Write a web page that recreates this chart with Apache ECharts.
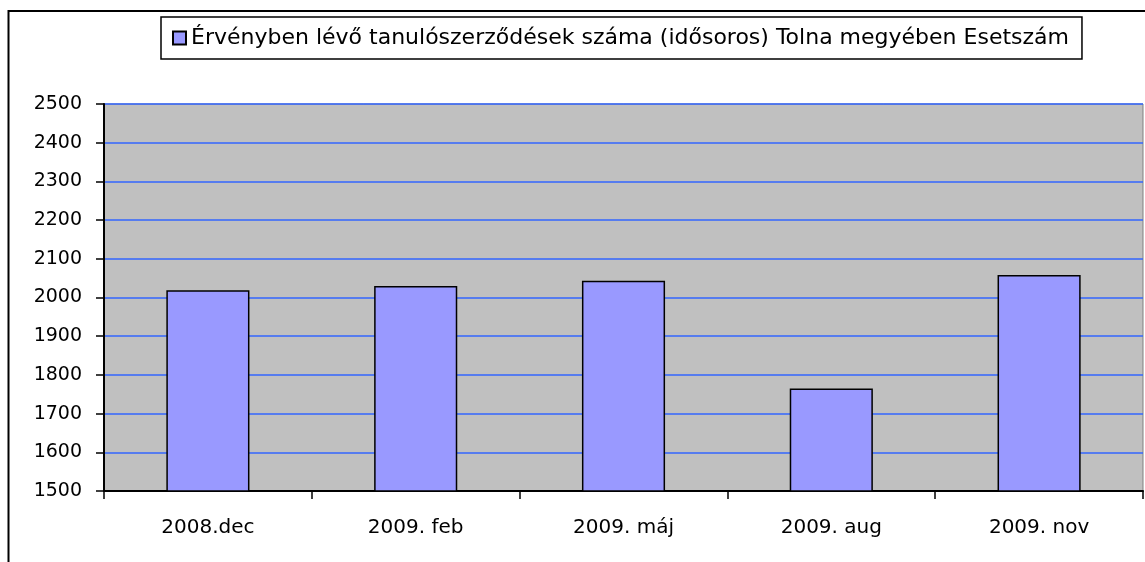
<!DOCTYPE html>
<html lang="hu" style="height: 100%">
<head>
  <meta charset="utf-8">
</head>
<body style="height: 100%; margin: 0; background: #fff">
  <div id="container" style="width: 1145px; height: 562px"></div>

  <script type="text/javascript" src="https://fastly.jsdelivr.net/npm/echarts@6/dist/echarts.min.js"></script>
  <script type="text/javascript">
    // chart data
    var categories = ['2008.dec', '2009. feb', '2009. máj', '2009. aug', '2009. nov'];
    var seriesName = 'Érvényben lévő tanulószerződések száma (idősoros) Tolna megyében Esetszám';
    var values = [2019, 2030, 2043, 1765, 2058];
    var yTicks = [1500, 1600, 1700, 1800, 1900, 2000, 2100, 2200, 2300, 2400, 2500];

    var dom = document.getElementById('container');
    var myChart = echarts.init(dom, null, { renderer: 'canvas' });
    var font = 'DejaVu Sans';

    var option = {
      backgroundColor: '#fff',
      animation: false,
      textStyle: { fontFamily: font },
      graphic: [{
        type: 'rect',
        silent: true,
        shape: { x: 8.5, y: 11, width: 1300, height: 700 },
        style: { fill: null, stroke: '#000', lineWidth: 2 }
      }],
      legend: {
        left: 161,
        top: 17,
        padding: [10, 13, 10, 11],
        borderColor: '#000',
        borderWidth: 1.5,
        backgroundColor: '#fff',
        itemWidth: 13,
        itemHeight: 13,
        textStyle: { fontFamily: font, fontSize: 22, color: '#000' },
        data: [{ name: seriesName, icon: 'rect' }]
      },
      grid: {
        left: 104,
        top: 104,
        right: 2,
        bottom: 71,
        show: true,
        backgroundColor: '#C0C0C0',
        borderColor: '#808080',
        borderWidth: 1
      },
      xAxis: {
        type: 'category',
        data: categories,
        boundaryGap: true,
        axisLine: { lineStyle: { color: '#000', width: 2 } },
        axisTick: { show: true, length: 8, interval: 0, alignWithLabel: false, lineStyle: { color: '#000', width: 1.5 } },
        axisLabel: { color: '#000', fontSize: 20, fontFamily: font, margin: 27, interval: 0 },
        splitLine: { show: false }
      },
      yAxis: {
        type: 'value',
        min: yTicks[0],
        max: yTicks[yTicks.length - 1],
        interval: 100,
        axisLine: { show: true, lineStyle: { color: '#000', width: 2 } },
        axisTick: { show: true, length: 8, lineStyle: { color: '#000', width: 1.5 } },
        axisLabel: {
          color: '#000', fontSize: 19, fontFamily: font, margin: 22,
          formatter: function (v) { return String(v); }
        },
        splitLine: { show: true, lineStyle: { color: '#3366FF', width: 1.5 } }
      },
      series: [{
        name: seriesName,
        type: 'bar',
        data: values,
        barWidth: '40%',
        itemStyle: { color: '#9999FF', borderColor: '#000', borderWidth: 1.5 }
      }]
    };

    myChart.setOption(option);
    window.addEventListener('resize', myChart.resize);
  </script>
</body>
</html>
